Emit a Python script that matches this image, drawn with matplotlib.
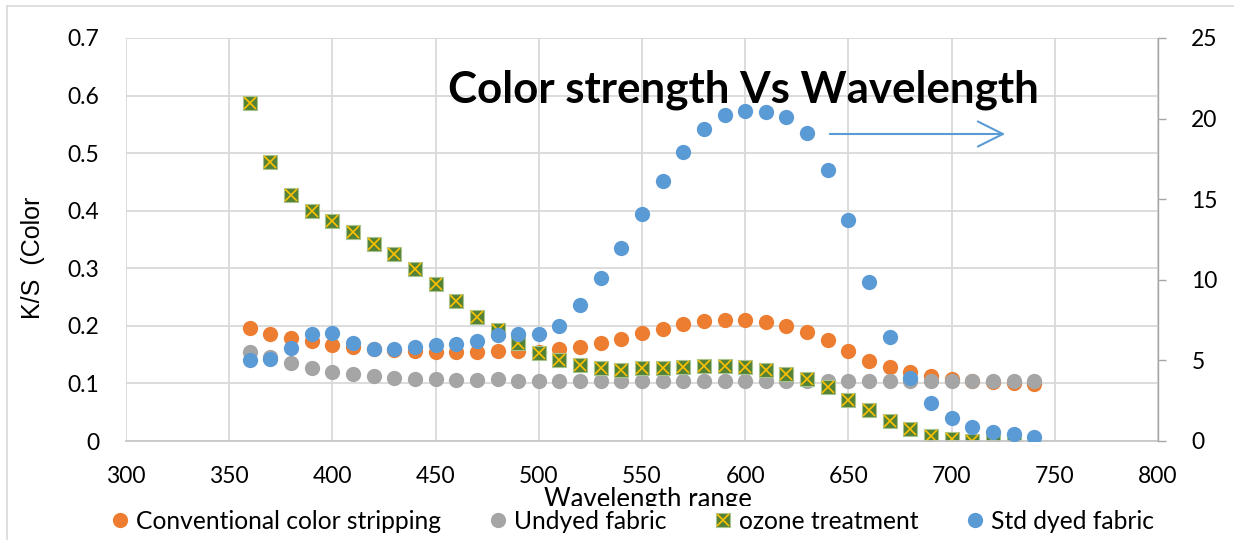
import matplotlib
matplotlib.use("Agg")
import matplotlib.pyplot as plt
from matplotlib.lines import Line2D

plt.rcParams['font.family'] = ['Lato', 'DejaVu Sans']

wavelength = [360, 370, 380, 390, 400, 410, 420, 430, 440, 450,
              460, 470, 480, 490, 500, 510, 520, 530, 540, 550,
              560, 570, 580, 590, 600, 610, 620, 630, 640, 650,
              660, 670, 680, 690, 700, 710, 720, 730, 740]

conventional = [0.196, 0.186, 0.179, 0.174, 0.167, 0.163, 0.159, 0.158, 0.157, 0.155,
                0.155, 0.155, 0.156, 0.156, 0.155, 0.159, 0.164, 0.170, 0.178, 0.187,
                0.195, 0.203, 0.208, 0.211, 0.211, 0.207, 0.200, 0.190, 0.175, 0.157,
                0.139, 0.128, 0.119, 0.113, 0.108, 0.105, 0.102, 0.100, 0.099]

undyed = [0.155, 0.146, 0.135, 0.127, 0.120, 0.116, 0.113, 0.110, 0.108, 0.107,
          0.106, 0.106, 0.107, 0.105, 0.105, 0.105, 0.104, 0.104, 0.104, 0.104,
          0.104, 0.104, 0.104, 0.104, 0.104, 0.104, 0.104, 0.104, 0.104, 0.104,
          0.104, 0.104, 0.104, 0.104, 0.104, 0.104, 0.104, 0.104, 0.104]

# ozone series stops at 730
ozone = [0.587, 0.484, 0.427, 0.399, 0.382, 0.363, 0.343, 0.324, 0.299, 0.272,
         0.243, 0.216, 0.193, 0.171, 0.153, 0.141, 0.132, 0.126, 0.124, 0.126,
         0.126, 0.128, 0.130, 0.130, 0.128, 0.123, 0.117, 0.108, 0.093, 0.072,
         0.053, 0.035, 0.020, 0.009, 0.003, 0.000, 0.000, 0.002]

# secondary axis
std_dyed = [5.02, 5.09, 5.77, 6.64, 6.70, 6.10, 5.69, 5.69, 5.81, 5.96,
            6.00, 6.20, 6.58, 6.64, 6.64, 7.15, 8.42, 10.11, 11.95, 14.08,
            16.15, 17.95, 19.34, 20.22, 20.47, 20.39, 20.12, 19.13, 16.81, 13.71,
            9.86, 6.47, 3.93, 2.38, 1.45, 0.89, 0.58, 0.43, 0.27]

c_orange = '#ED7D31'
c_grey = '#A5A5A5'
c_green = '#548235'
c_gold = '#FFC000'
c_blue = '#5B9BD5'

W, H = 1234, 540
fig = plt.figure(figsize=(W / 100, H / 100), dpi=100)
ax = fig.add_axes([126 / W, 1 - 441 / H, (1158 - 126) / W, (441 - 38) / H])
ax2 = ax.twinx()

ms = 11
ax.plot(wavelength, conventional, 'o', ms=ms, color=c_orange, mew=0)
ax.plot(wavelength, undyed, 'o', ms=ms, color=c_grey, mew=0)
ax.plot(wavelength[:len(ozone)], ozone, 's', ms=10, mfc=c_green, mec='#A9C58F', mew=0.8)
ax.plot(wavelength[:len(ozone)], ozone, 'x', ms=8.5, color=c_gold, mew=1.2)
ax2.plot(wavelength, std_dyed, 'o', ms=ms, color=c_blue, mew=0)

ax.set_xlim(300, 800)
ax.set_ylim(0, 0.7)
ax2.set_ylim(0, 25)
ax.set_xticks(range(300, 801, 50))
ax.set_yticks([0, 0.1, 0.2, 0.3, 0.4, 0.5, 0.6, 0.7])
ax.set_yticklabels(['0', '0.1', '0.2', '0.3', '0.4', '0.5', '0.6', '0.7'])
ax2.set_yticks([0, 5, 10, 15, 20, 25])

ax.grid(True, color='#D9D9D9', lw=1.3)
ax.set_axisbelow(True)
for s in ['left', 'top', 'right']:
    ax.spines[s].set_visible(False)
    ax2.spines[s].set_visible(False)
ax.spines['bottom'].set_color('#C8C8C8')
ax.spines['bottom'].set_linewidth(1.3)
ax2.spines['bottom'].set_visible(False)
ax2.spines['right'].set_visible(True)
ax2.spines['right'].set_color('#A6A6A6')
ax2.spines['right'].set_linewidth(1.0)

ax.tick_params(axis='x', length=0, pad=18, labelsize=16.5)
ax.tick_params(axis='y', length=0, pad=19, labelsize=16.5)
ax2.tick_params(axis='y', length=6, width=1, color='#A6A6A6', pad=18, labelsize=16.5)

fig.text(33 / W, 1 - 258 / H, 'K/S  (Color', rotation=90, ha='center', va='center',
         fontsize=18, family=['Liberation Sans', 'DejaVu Sans'])
fig.text(648 / W, 1 - 507 / H, 'Wavelength range', ha='center', va='baseline', fontsize=18.5)

fig.text(743 / W, 1 - 103 / H, 'Color strength Vs Wavelength', ha='center', va='baseline',
         fontsize=31.6, fontweight='bold')

ax.annotate('', xy=(1008, H - 134), xytext=(827, H - 134),
            xycoords='figure pixels', textcoords='figure pixels',
            arrowprops=dict(arrowstyle='->,head_length=0.9,head_width=0.45',
                            color=c_blue, lw=1.5, mutation_scale=20))

h_conv = Line2D([], [], ls='none', marker='o', ms=ms, color=c_orange, mew=0)
h_und = Line2D([], [], ls='none', marker='o', ms=ms, color=c_grey, mew=0)
h_oz1 = Line2D([], [], ls='none', marker='s', ms=10, mfc=c_green, mec='#A9C58F', mew=0.8)
h_oz2 = Line2D([], [], ls='none', marker='x', ms=8.5, color=c_gold, mew=1.2)
h_std = Line2D([], [], ls='none', marker='o', ms=ms, color=c_blue, mew=0)
leg = fig.legend([h_conv, h_und, (h_oz1, h_oz2), h_std],
                 ['Conventional color stripping', 'Undyed fabric', 'ozone treatment', 'Std dyed fabric'],
                 loc='upper left', bbox_to_anchor=(108 / W, 1 - 506 / H), ncol=4,
                 frameon=True, facecolor='white', edgecolor='none', framealpha=1,
                 fontsize=17.7, handlelength=0.7, handletextpad=0.3, columnspacing=1.95,
                 borderpad=0.15, borderaxespad=0)
leg.set_zorder(10)

# chart border
fig.add_artist(Line2D([7 / W, 7 / W], [0, 1 - 6 / H], color='#D9D9D9', lw=1.2))
fig.add_artist(Line2D([7 / W, 1], [1 - 6 / H, 1 - 6 / H], color='#D9D9D9', lw=1.2))

fig.savefig('out.png', dpi=100)
